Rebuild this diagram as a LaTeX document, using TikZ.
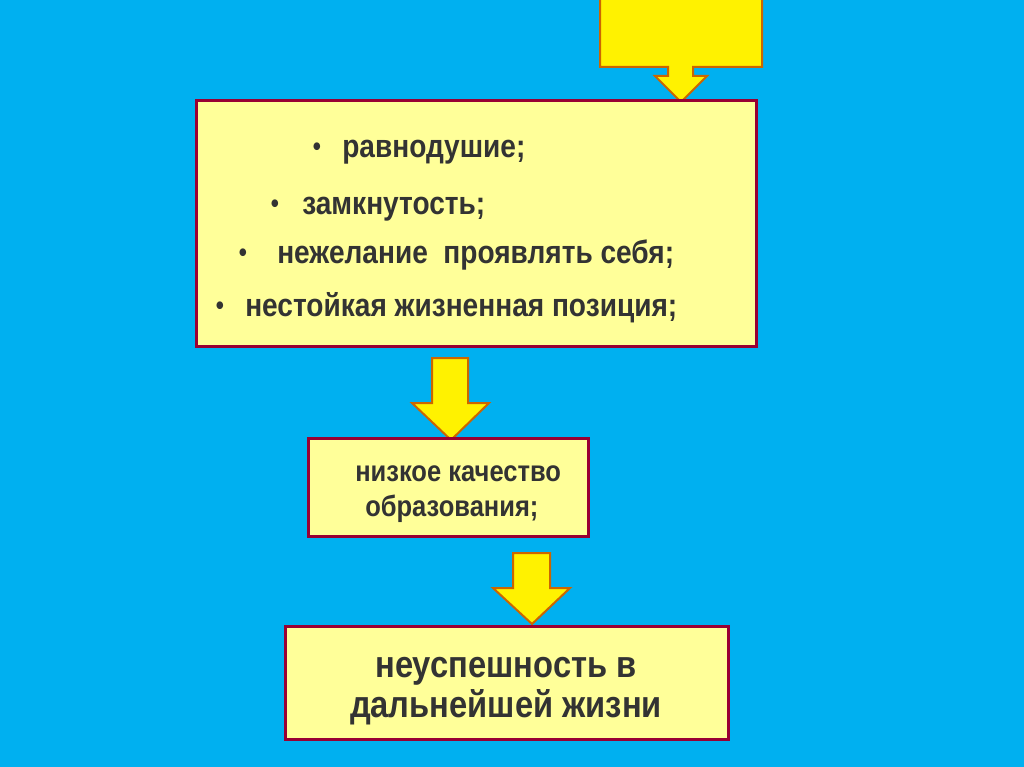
\documentclass[tikz,border=0pt]{standalone}
\usepackage{fontspec}
\setmainfont{Liberation Sans}[FakeStretch=0.87]
\definecolor{bg}{RGB}{0,176,240}
\definecolor{boxfill}{RGB}{255,255,153}
\definecolor{boxline}{RGB}{153,0,51}
\definecolor{arrowline}{RGB}{204,102,0}
\definecolor{txt}{RGB}{51,51,51}
\begin{document}
\begin{tikzpicture}[x=0.75pt,y=-0.75pt,
  boxstyle/.style={draw=boxline,line width=2.6pt,fill=boxfill},
  blockarrow/.style={draw=arrowline,line width=1.5pt,fill=yellow,line join=miter},
  itemtext/.style={text=txt,font=\bfseries\fontsize{24.2}{28}\selectfont,inner sep=0pt,anchor=base west},
  bulletmark/.style={text=txt,font=\bfseries\fontsize{20}{24}\selectfont,inner sep=0pt,anchor=base},
  bigtext/.style={text=txt,font=\bfseries\fontsize{28.2}{32}\selectfont,inner sep=0pt,anchor=base},
  midtext/.style={text=txt,font=\bfseries\fontsize{22}{26}\selectfont,inner sep=0pt,anchor=base west}]
\fill[bg] (0,0) rectangle (1024,767);
\useasboundingbox (0,0) rectangle (1024,767);
% top block arrow
\draw[blockarrow] (600,-10) -- (762,-10) -- (762,67) -- (693,67) -- (693,76) -- (707,76) -- (681,102) -- (655,76) -- (668,76) -- (668,67) -- (600,67) -- cycle;
% box 1
\node[boxstyle,minimum width=560*0.75pt,minimum height=246*0.75pt,anchor=north west] (box1) at (195,99) {};
\node[bulletmark] (b1) at (317,155) {•};
\node[itemtext] (t1) at (342,157) {равнодушие;};
\node[bulletmark] (b2) at (275,212) {•};
\node[itemtext] (t2) at (302,214) {замкнутость;};
\node[bulletmark] (b3) at (243,261) {•};
\node[itemtext] (t3) at (277,263) {нежелание~ проявлять себя;};
\node[bulletmark] (b4) at (220,314) {•};
\node[itemtext] (t4) at (245,316) {нестойкая жизненная позиция;};
% arrow 2
\draw[blockarrow] (432,358) -- (468,358) -- (468,403) -- (489,403) -- (451,440) -- (412,403) -- (432,403) -- cycle;
% box 2
\node[boxstyle,minimum width=280*0.75pt,minimum height=98*0.75pt,anchor=north west] (box2) at (307,437) {};
\node[midtext] (t5) at (355,481) {низкое качество};
\node[midtext] (t6) at (365,516) {образования;};
% arrow 3
\draw[blockarrow] (513,553) -- (550,553) -- (550,588) -- (570,588) -- (532,624) -- (493,588) -- (513,588) -- cycle;
% box 3
\node[boxstyle,minimum width=443*0.75pt,minimum height=113*0.75pt,anchor=north west] (box3) at (284,625) {};
\node[bigtext] (t7) at (506,677) {неуспешность в};
\node[bigtext] (t8) at (506,717) {дальнейшей жизни};
\end{tikzpicture}
\end{document}
